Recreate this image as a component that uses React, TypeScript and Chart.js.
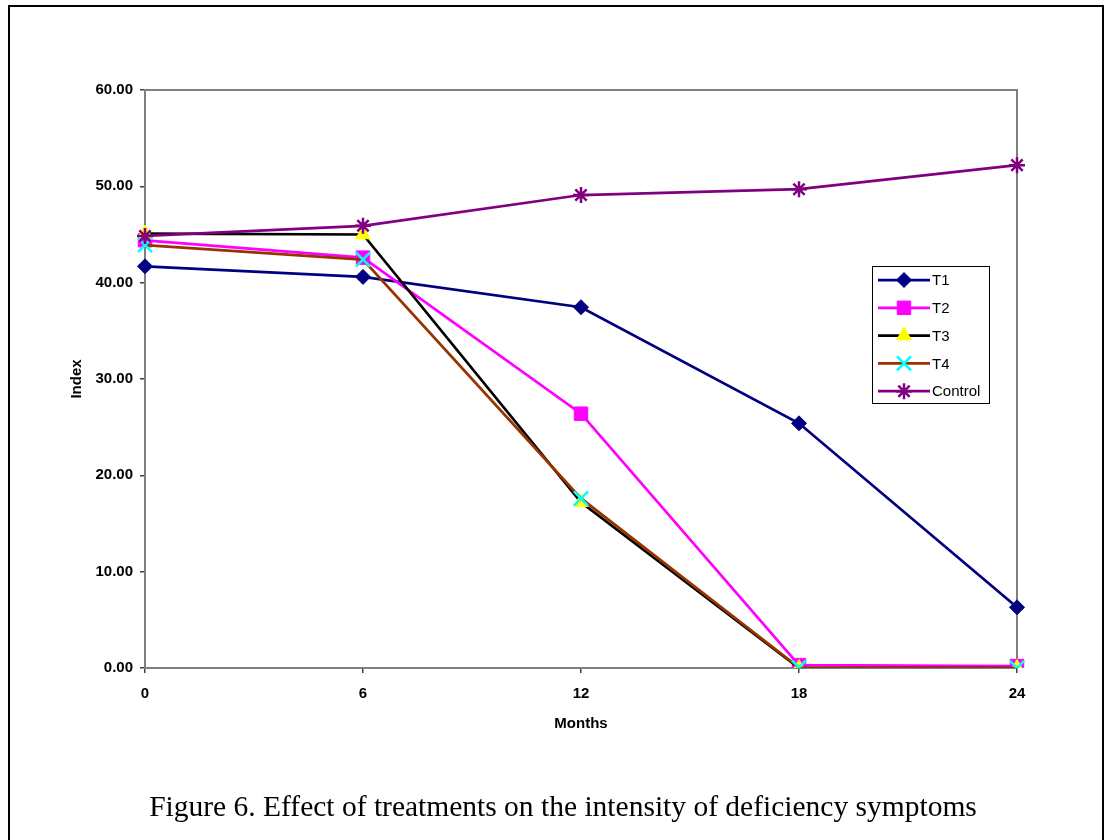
import React, { useEffect, useRef } from 'react';
import { Chart, registerables } from 'chart.js';
import { drawPoint } from 'chart.js/helpers';

Chart.register(...registerables);

// ---- data ----
const months = ['0', '6', '12', '18', '24'];
const t1 = [41.7, 40.6, 37.45, 25.4, 6.3];
const t2 = [44.4, 42.6, 26.4, 0.3, 0.2];
const t3 = [45.1, 45.0, 17.2, 0.0, 0.0];
const t4 = [43.9, 42.4, 17.6, 0.05, 0.0];
const control = [44.85, 45.9, 49.1, 49.7, 52.2];
const seriesNames = ['T1', 'T2', 'T3', 'T4', 'Control'];
const yMin = 0;
const yMax = 60;
const yStep = 10;
const xTitle = 'Months';
const yTitle = 'Index';
const caption = 'Figure 6. Effect of treatments on the intensity of deficiency symptoms';

const styles = [
  { line: '#000080', fill: '#000080', stroke: '#000080', pointStyle: 'rectRot', radius: 7.5, bw: 1 },
  { line: '#FF00FF', fill: '#FF00FF', stroke: '#FF00FF', pointStyle: 'rect', radius: 9.5, bw: 1 },
  { line: '#000000', fill: '#FFFF00', stroke: '#FFFF00', pointStyle: 'triangle', radius: 8.5, bw: 1 },
  { line: '#993300', fill: '#00FFFF', stroke: '#00FFFF', pointStyle: 'crossRot', radius: 10, bw: 2.5 },
  { line: '#800080', fill: '#800080', stroke: '#800080', pointStyle: 'star', radius: 8, bw: 2.5 },
];

const seriesData = [t1, t2, t3, t4, control];

const FONT = '"Liberation Sans", Arial, sans-serif';

const plotBorderPlugin = {
  id: 'plotBorder',
  beforeDatasetsDraw(chart: any) {
    const { ctx, chartArea: a } = chart;
    ctx.save();
    ctx.strokeStyle = '#808080';
    ctx.lineWidth = 2;
    ctx.strokeRect(a.left, a.top, a.right - a.left, a.bottom - a.top);
    ctx.restore();
  },
};

const legendPlugin = {
  id: 'excelLegend',
  afterDraw(chart: any) {
    const { ctx } = chart;
    const bx = 872, by = 266, bw = 117, bh = 137;
    ctx.save();
    ctx.fillStyle = '#FFFFFF';
    ctx.fillRect(bx, by, bw, bh);
    ctx.strokeStyle = '#000000';
    ctx.lineWidth = 1;
    ctx.strokeRect(bx + 0.5, by + 0.5, bw, bh);
    ctx.font = '15px ' + FONT;
    ctx.textBaseline = 'middle';
    ctx.textAlign = 'left';
    chart.data.datasets.forEach((ds: any, i: number) => {
      const y = by + 14 + i * 27.8;
      ctx.strokeStyle = ds.borderColor;
      ctx.lineWidth = ds.borderWidth;
      ctx.beginPath();
      ctx.moveTo(878, y);
      ctx.lineTo(930, y);
      ctx.stroke();
      ctx.fillStyle = ds.pointBackgroundColor;
      ctx.strokeStyle = ds.pointBorderColor;
      ctx.lineWidth = ds.pointBorderWidth;
      drawPoint(ctx, {
        pointStyle: ds.pointStyle,
        rotation: 0,
        radius: ds.pointRadius,
        borderWidth: ds.pointBorderWidth,
      } as any, 904, y);
      ctx.fillStyle = '#000000';
      ctx.fillText(ds.label, 932, y + 1);
    });
    ctx.restore();
  },
};

function ChartView() {
  const ref = useRef<HTMLCanvasElement | null>(null);
  useEffect(() => {
    if (!ref.current) return;
    const datasets = seriesNames.map((name, i) => ({
      label: name,
      data: seriesData[i],
      borderColor: styles[i].line,
      borderWidth: 2.75,
      pointStyle: styles[i].pointStyle,
      pointRadius: styles[i].radius,
      pointHoverRadius: styles[i].radius,
      pointBackgroundColor: styles[i].fill,
      pointBorderColor: styles[i].stroke,
      pointBorderWidth: styles[i].bw,
      tension: 0,
      fill: false,
      order: seriesNames.length - i,
    }));
    const chart = new Chart(ref.current, {
      type: 'line',
      data: { labels: months, datasets },
      options: {
        animation: false,
        responsive: false,
        devicePixelRatio: 1,
        layout: { padding: { top: 90, right: 88, left: 0, bottom: 0 } },
        plugins: {
          legend: { display: false },
          tooltip: { enabled: false },
          title: { display: false },
        },
        scales: {
          x: {
            type: 'category',
            offset: false,
            afterFit: (s: any) => { s.height = 172; },
            grid: { display: true, drawOnChartArea: false, drawTicks: true, tickLength: 5, color: '#404040', lineWidth: 1.5 },
            border: { display: false },
            ticks: { color: '#000', font: { family: FONT, size: 15, weight: 'bold' }, padding: 12, maxRotation: 0 },
            title: { display: true, text: xTitle, color: '#000', font: { family: FONT, size: 15, weight: 'bold' }, padding: { top: 0, bottom: 107 } },
          },
          y: {
            type: 'linear',
            min: yMin,
            max: yMax,
            afterFit: (s: any) => { s.width = 145; },
            grid: { display: true, drawOnChartArea: false, drawTicks: true, tickLength: 5, color: '#404040', lineWidth: 1.5 },
            border: { display: false },
            ticks: {
              stepSize: yStep,
              color: '#000',
              padding: 7,
              font: { family: FONT, size: 15, weight: 'bold' },
              callback: (v: any) => Number(v).toFixed(2),
            },
            title: { display: true, text: yTitle, color: '#000', font: { family: FONT, size: 15, weight: 'bold' }, padding: { top: 68, bottom: 0 } },
          },
        },
      } as any,
      plugins: [plotBorderPlugin, legendPlugin],
    });
    return () => chart.destroy();
  }, []);
  return <canvas ref={ref} width={1105} height={840} style={{ position: 'absolute', left: 0, top: 0, width: 1105, height: 840 }} />;
}

export default function App() {
  return (
    <div style={{ position: 'absolute', left: 0, top: 0, width: 1105, height: 840, background: '#fff', overflow: 'hidden' }}>
      <div style={{ position: 'absolute', left: 8, top: 5, width: 1096, height: 845, border: '2px solid #000', boxSizing: 'border-box' }} />
      <ChartView />
      <div
        style={{
          position: 'absolute',
          left: 563,
          top: 792,
          transform: 'translateX(-50%)',
          whiteSpace: 'nowrap',
          fontFamily: '"Liberation Serif", "Times New Roman", serif',
          fontSize: 29.5,
          lineHeight: '29.5px',
          color: '#000',
        }}
      >
        {caption}
      </div>
    </div>
  );
}
